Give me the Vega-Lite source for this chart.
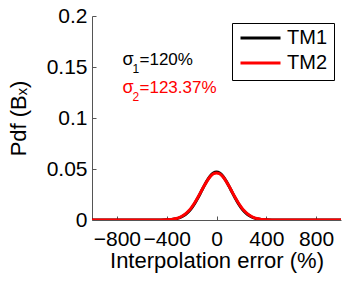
{
  "$schema": "https://vega.github.io/schema/vega-lite/v6.json",
  "autosize": {"type": "none"},
  "padding": {"left": 92, "top": 16, "right": 8, "bottom": 67},
  "width": 249,
  "height": 204,
  "background": "white",
  "config": {
    "view": {"stroke": null},
    "font": "Liberation Sans",
    "axis": {
      "grid": false,
      "domainColor": "#555555",
      "domainWidth": 1,
      "tickColor": "#555555",
      "tickSize": -4,
      "labelFont": "Liberation Sans",
      "labelFontSize": 21,
      "labelColor": "black",
      "titleFont": "Liberation Sans",
      "titleFontSize": 22,
      "titleFontWeight": "normal",
      "titleColor": "black"
    }
  },
  "datasets": {
    "curves": [
      {"x": -1000, "pdf": 0, "s": "TM1"},
      {"x": -500, "pdf": 0, "s": "TM1"},
      {"x": -450, "pdf": 0.00004, "s": "TM1"},
      {"x": -400, "pdf": 0.00018, "s": "TM1"},
      {"x": -375, "pdf": 0.00036, "s": "TM1"},
      {"x": -350, "pdf": 0.00067, "s": "TM1"},
      {"x": -325, "pdf": 0.0012, "s": "TM1"},
      {"x": -300, "pdf": 0.00207, "s": "TM1"},
      {"x": -275, "pdf": 0.0034, "s": "TM1"},
      {"x": -250, "pdf": 0.00537, "s": "TM1"},
      {"x": -225, "pdf": 0.0081, "s": "TM1"},
      {"x": -200, "pdf": 0.01172, "s": "TM1"},
      {"x": -175, "pdf": 0.01623, "s": "TM1"},
      {"x": -150, "pdf": 0.02152, "s": "TM1"},
      {"x": -125, "pdf": 0.02732, "s": "TM1"},
      {"x": -100, "pdf": 0.03321, "s": "TM1"},
      {"x": -75, "pdf": 0.03866, "s": "TM1"},
      {"x": -50, "pdf": 0.04309, "s": "TM1"},
      {"x": -25, "pdf": 0.04599, "s": "TM1"},
      {"x": 0, "pdf": 0.047, "s": "TM1"},
      {"x": 25, "pdf": 0.04599, "s": "TM1"},
      {"x": 50, "pdf": 0.04309, "s": "TM1"},
      {"x": 75, "pdf": 0.03866, "s": "TM1"},
      {"x": 100, "pdf": 0.03321, "s": "TM1"},
      {"x": 125, "pdf": 0.02732, "s": "TM1"},
      {"x": 150, "pdf": 0.02152, "s": "TM1"},
      {"x": 175, "pdf": 0.01623, "s": "TM1"},
      {"x": 200, "pdf": 0.01172, "s": "TM1"},
      {"x": 225, "pdf": 0.0081, "s": "TM1"},
      {"x": 250, "pdf": 0.00537, "s": "TM1"},
      {"x": 275, "pdf": 0.0034, "s": "TM1"},
      {"x": 300, "pdf": 0.00207, "s": "TM1"},
      {"x": 325, "pdf": 0.0012, "s": "TM1"},
      {"x": 350, "pdf": 0.00067, "s": "TM1"},
      {"x": 375, "pdf": 0.00036, "s": "TM1"},
      {"x": 400, "pdf": 0.00018, "s": "TM1"},
      {"x": 450, "pdf": 0.00004, "s": "TM1"},
      {"x": 500, "pdf": 0, "s": "TM1"},
      {"x": 1000, "pdf": 0, "s": "TM1"},
      {"x": -1000, "pdf": 0, "s": "TM2"},
      {"x": -500, "pdf": 0, "s": "TM2"},
      {"x": -450, "pdf": 0.00006, "s": "TM2"},
      {"x": -400, "pdf": 0.00024, "s": "TM2"},
      {"x": -375, "pdf": 0.00046, "s": "TM2"},
      {"x": -350, "pdf": 0.00083, "s": "TM2"},
      {"x": -325, "pdf": 0.00144, "s": "TM2"},
      {"x": -300, "pdf": 0.0024, "s": "TM2"},
      {"x": -275, "pdf": 0.00385, "s": "TM2"},
      {"x": -250, "pdf": 0.00593, "s": "TM2"},
      {"x": -225, "pdf": 0.00875, "s": "TM2"},
      {"x": -200, "pdf": 0.01241, "s": "TM2"},
      {"x": -175, "pdf": 0.01689, "s": "TM2"},
      {"x": -150, "pdf": 0.02206, "s": "TM2"},
      {"x": -125, "pdf": 0.02765, "s": "TM2"},
      {"x": -100, "pdf": 0.03326, "s": "TM2"},
      {"x": -75, "pdf": 0.03841, "s": "TM2"},
      {"x": -50, "pdf": 0.04256, "s": "TM2"},
      {"x": -25, "pdf": 0.04526, "s": "TM2"},
      {"x": 0, "pdf": 0.0462, "s": "TM2"},
      {"x": 25, "pdf": 0.04526, "s": "TM2"},
      {"x": 50, "pdf": 0.04256, "s": "TM2"},
      {"x": 75, "pdf": 0.03841, "s": "TM2"},
      {"x": 100, "pdf": 0.03326, "s": "TM2"},
      {"x": 125, "pdf": 0.02765, "s": "TM2"},
      {"x": 150, "pdf": 0.02206, "s": "TM2"},
      {"x": 175, "pdf": 0.01689, "s": "TM2"},
      {"x": 200, "pdf": 0.01241, "s": "TM2"},
      {"x": 225, "pdf": 0.00875, "s": "TM2"},
      {"x": 250, "pdf": 0.00593, "s": "TM2"},
      {"x": 275, "pdf": 0.00385, "s": "TM2"},
      {"x": 300, "pdf": 0.0024, "s": "TM2"},
      {"x": 325, "pdf": 0.00144, "s": "TM2"},
      {"x": 350, "pdf": 0.00083, "s": "TM2"},
      {"x": 375, "pdf": 0.00046, "s": "TM2"},
      {"x": 400, "pdf": 0.00024, "s": "TM2"},
      {"x": 450, "pdf": 0.00006, "s": "TM2"},
      {"x": 500, "pdf": 0, "s": "TM2"},
      {"x": 1000, "pdf": 0, "s": "TM2"}
    ],
    "notes": [
      {"x": -755, "y": 0.152, "s": "TM1", "sym": "σ", "sub": "1", "val": "=120%"},
      {"x": -755, "y": 0.1242, "s": "TM2", "sym": "σ", "sub": "2", "val": "=123.37%"}
    ]
  },
  "layer": [
    {
      "data": {"name": "curves"},
      "mark": {"type": "line", "strokeWidth": 3, "interpolate": "monotone", "clip": true},
      "encoding": {
        "x": {
          "field": "x", "type": "quantitative",
          "scale": {"domain": [-1000, 1000], "nice": false, "zero": false},
          "axis": {
            "values": [-800, -400, 0, 400, 800],
            "title": "Interpolation error (%)",
            "labelBaseline": "alphabetic",
            "labelPadding": 29,
            "titleBaseline": "alphabetic",
            "titleY": 47
          }
        },
        "y": {
          "field": "pdf", "type": "quantitative",
          "scale": {"domain": [0, 0.2], "nice": false},
          "axis": {
            "values": [0, 0.05, 0.1, 0.15, 0.2],
            "format": ".2~f",
            "labelPadding": 9,
            "title": "Pdf (Bₓ)",
            "titleBaseline": "alphabetic",
            "titleX": -67
          }
        },
        "color": {
          "field": "s", "type": "nominal",
          "scale": {"domain": ["TM1", "TM2"], "range": ["#000000", "#ff0000"]},
          "legend": {
            "title": null,
            "orient": "none",
            "legendX": 140,
            "legendY": 7,
            "padding": 7,
            "strokeColor": "black",
            "fillColor": "white",
            "symbolType": "stroke",
            "symbolSize": 1600,
            "symbolStrokeWidth": 3,
            "clipHeight": 16,
            "rowPadding": 5,
            "labelOffset": 5,
            "labelFont": "Liberation Sans",
            "labelFontSize": 20,
            "labelColor": "black"
          }
        }
      }
    },
    {
      "data": {"name": "notes"},
      "mark": {"type": "text", "align": "left", "baseline": "alphabetic", "fontSize": 18, "font": "Liberation Sans"},
      "encoding": {
        "x": {"field": "x", "type": "quantitative"},
        "y": {"field": "y", "type": "quantitative"},
        "text": {"field": "sym"},
        "color": {"condition": {"test": "datum.s === 'TM2'", "value": "#ff0000"}, "value": "#000000"}
      }
    },
    {
      "data": {"name": "notes"},
      "mark": {"type": "text", "align": "left", "baseline": "alphabetic", "fontSize": 12, "dx": 10, "dy": 8, "font": "Liberation Sans"},
      "encoding": {
        "x": {"field": "x", "type": "quantitative"},
        "y": {"field": "y", "type": "quantitative"},
        "text": {"field": "sub"},
        "color": {"condition": {"test": "datum.s === 'TM2'", "value": "#ff0000"}, "value": "#000000"}
      }
    },
    {
      "data": {"name": "notes"},
      "mark": {"type": "text", "align": "left", "baseline": "alphabetic", "fontSize": 17, "dx": 17, "font": "Liberation Sans"},
      "encoding": {
        "x": {"field": "x", "type": "quantitative"},
        "y": {"field": "y", "type": "quantitative"},
        "text": {"field": "val"},
        "color": {"condition": {"test": "datum.s === 'TM2'", "value": "#ff0000"}, "value": "#000000"}
      }
    }
  ]
}
